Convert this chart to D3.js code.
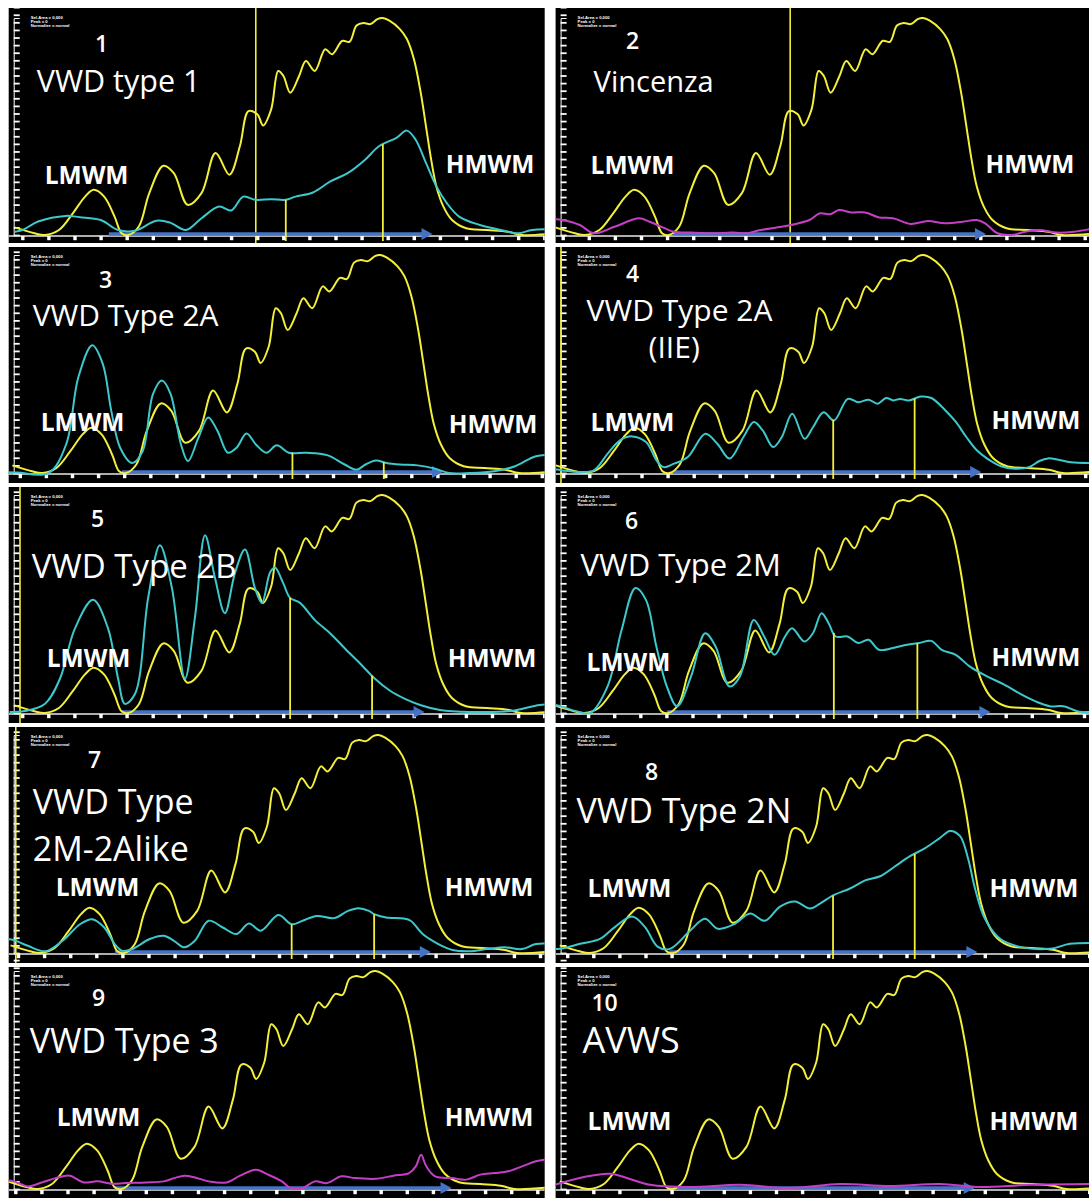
<!DOCTYPE html>
<html><head><meta charset="utf-8">
<script src="https://cdn.jsdelivr.net/npm/d3@7"></script>
<style>html,body{margin:0;padding:0;background:#fff}svg{display:block}</style>
</head><body>
<svg id="chart" width="1089" height="1198"></svg>
<script>
// ---------------- DATA ----------------
const panelNumbers = ["1","2","3","4","5","6","7","8","9","10"];
const panelTitles = [["VWD type 1"],["Vincenza"],["VWD Type 2A"],["VWD Type 2A","(IIE)"],["VWD Type 2B"],["VWD Type 2M"],["VWD Type","2M-2Alike"],["VWD Type 2N"],["VWD Type 3"],["AVWS"]];
const lowLabel = "LMWM";
const highLabel = "HMWM";
const headerLines = ["Sel.Area = 0,000","Peak = 0","Normalize = normal"];
const xTicks = d3.range(0, 21);            // migration distance ticks
const yRulerTicks = d3.range(0, 106, 3.5);  // densitometry ruler

// normal plasma densitometry (same reference in every panel), [migration, % of max]
const normalPlasma = [[-0.3,3.5],[0.45,0.8],[0.85,0],[1.39,2.3],[1.92,10],[2.39,17.7],[2.72,20.8],[3.12,17.7],[3.52,8.5],[3.79,0.8],[4.05,0],[4.45,3.9],[4.85,19.3],[5.39,31.9],[5.79,28.5],[6.32,13.9],[6.85,19.3],[7.39,37.8],[7.92,27.8],[8.32,40.9],[8.65,57.1],[8.99,55.6],[9.21,50.5],[9.52,57.9],[9.79,75.6],[9.99,73.3],[10.25,65.6],[10.59,73.3],[10.85,80.2],[11.19,75.6],[11.59,85.6],[11.85,83.3],[12.25,89.5],[12.52,89],[12.79,96.5],[13.05,97.7],[13.32,97.2],[13.59,99.5],[13.79,100],[14.05,98.8],[14.45,94.9],[14.72,90.3],[14.99,81],[15.25,65.6],[15.45,50.2],[15.65,34.7],[15.85,22.4],[16.12,13.1],[16.45,6.9],[16.99,3.1],[17.79,2.3],[18.59,1.5],[19.12,0],[20.5,0.8]];

const patientType1 = [[-0.3,1.5],[-0.01,2.3],[0.59,6.2],[1.65,8.8],[2.19,8.2],[2.99,6.9],[3.65,2.3],[4.32,2.0],[5.12,6.6],[5.65,5.7],[6.25,2.3],[6.85,7.7],[7.52,13.1],[7.99,11.3],[8.45,17.7],[8.92,16.2],[9.52,16.5],[10.08,16.2],[10.45,17.7],[11.12,19.6],[11.79,24.7],[12.45,28.5],[13.12,34.7],[13.65,40.9],[14.32,44.8],[14.72,48.1],[15.05,44],[15.45,33.2],[15.85,22.4],[16.25,14.7],[16.72,8.5],[17.52,4.6],[18.32,2.3],[18.99,0.8],[19.52,2.3],[20.5,2.6]];
const patientVincenza = [[-0.5,7.5],[-0.03,6.9],[0.64,4.6],[1.17,0.8],[1.97,3.8],[2.91,7.7],[3.31,6.1],[3.84,3.4],[4.24,1.5],[4.91,1.1],[5.71,0.8],[6.51,1.1],[7.04,0.8],[7.57,2.3],[8.37,3.8],[8.91,5.1],[9.44,6.9],[9.84,10],[10.24,9.6],[10.57,11.5],[11.04,10.4],[11.57,10.4],[12.11,8.1],[12.64,7.7],[13.31,5.1],[13.97,6.4],[14.64,5.4],[15.31,6.1],[15.84,6.9],[16.17,5.4],[16.64,0.8],[17.17,0],[17.71,1.5],[18.24,2.3],[18.91,1.1],[19.57,1.5],[20.5,3.5]];
const patientType2A = [[-0.5,0.3],[-0.11,0.2],[1.09,0],[1.76,13.1],[2.23,44],[2.76,58.6],[3.16,50.2],[3.49,28.5],[3.83,11.6],[4.29,4.6],[4.69,10],[5.09,36.3],[5.43,42.4],[5.76,36.3],[6.16,13.1],[6.43,5.4],[6.83,16.2],[7.2,25.5],[7.56,19.3],[7.96,9.3],[8.29,11.6],[8.67,18.1],[9.03,13.1],[9.43,9.3],[9.83,12.7],[10.29,9.3],[10.96,9.3],[11.76,8.2],[12.43,3.9],[12.89,1.5],[13.23,3.9],[13.63,5.7],[14.03,4.6],[14.56,3.9],[15.23,3.5],[15.89,2],[16.43,0],[17.23,0],[18.16,0.8],[18.96,3.1],[19.76,7.7],[20.5,8.2]];
const patientType2AIIE = [[-0.5,2],[-0.04,1.2],[0.63,0.5],[1.16,1.2],[1.69,8.9],[2.16,15],[2.63,16.8],[3.16,14.2],[3.56,5.8],[3.83,2.7],[4.23,4.3],[4.76,7.3],[5.43,18],[5.89,13.4],[6.36,6.6],[6.89,16.5],[7.29,23.4],[7.63,19.5],[8.03,11.9],[8.36,16.5],[8.76,27.2],[9.23,15.7],[9.56,21.1],[9.96,27.9],[10.36,24.1],[10.89,34],[11.29,32.5],[11.69,33.6],[12.03,31.8],[12.36,34.4],[12.63,33.3],[12.89,34],[13.23,33.3],[13.69,35.1],[14.09,34.4],[14.63,28.7],[15.03,23.4],[15.43,16.5],[15.83,10.4],[16.23,6.6],[16.76,3.1],[17.29,2],[17.83,2.7],[18.23,5.5],[18.56,6.7],[18.96,6.1],[19.43,4.9],[20.5,4.6]];
const patientType2B = [[-0.5,0.5],[0.09,0.9],[0.86,4.2],[1.43,15.7],[2.01,38.9],[2.7,51.9],[3.27,38.9],[3.66,15.7],[3.92,4.2],[4.31,8.8],[4.81,52.8],[5.26,76.9],[5.72,57.4],[6.22,15.7],[6.6,43.5],[6.99,81.5],[7.37,62],[7.75,45.8],[8.14,64.4],[8.52,75],[8.9,57.4],[9.17,50.5],[9.48,64.4],[9.67,66.7],[9.98,59.7],[10.25,52.8],[10.63,50.5],[11.2,42.6],[11.78,36.6],[12.35,29.6],[12.93,22.7],[13.5,15.7],[14.08,10.2],[14.65,6.5],[15.23,3.7],[15.99,1.4],[17.15,0.5],[18.67,0.9],[19.82,3.7],[20.5,4]];
const patientType2M = [[-0.5,4],[-0.07,3.1],[0.53,0.8],[1.07,0],[1.73,12.2],[2.27,38.2],[2.8,57.3],[3.2,51.9],[3.6,30.5],[4,12.2],[4.4,3.1],[4.93,16.8],[5.47,36.6],[5.87,30.5],[6.4,12.2],[6.8,16.8],[7.33,42.7],[7.73,35.1],[8.13,26.7],[8.53,35.1],[8.8,38.9],[9.27,32.8],[9.6,36.6],[9.93,45.8],[10.2,41.2],[10.47,35.1],[10.93,35.1],[11.33,32.1],[11.73,33.6],[12.13,29],[12.67,29.8],[13.2,31.3],[13.67,32.1],[14.13,33.1],[14.53,29],[15.07,26.7],[15.6,21.4],[16.27,16.8],[16.93,13],[17.6,8.4],[18.13,5.3],[18.67,3.1],[19.2,3.1],[19.73,0.8],[20.5,0]];
const patientType2M2A = [[-0.5,6.5],[-0.17,5.9],[0.36,3.3],[1.03,0.8],[1.69,5.6],[2.36,13.2],[2.83,15.5],[3.29,11.7],[3.69,4.1],[3.96,1.1],[4.36,1.8],[5.03,6.4],[5.56,7.9],[5.96,5.6],[6.36,2.6],[6.76,5.6],[7.29,14.8],[7.83,11.7],[8.36,8.7],[8.83,13.5],[9.29,10.2],[9.96,17.4],[10.47,13.2],[10.89,14.8],[11.43,17],[12.09,16],[12.63,19.3],[13.03,20.5],[13.43,19.3],[13.63,17.8],[14.09,16.3],[14.76,15.8],[15.03,14.8],[15.49,8.7],[16.09,4.1],[16.63,1.4],[17.29,0.8],[17.96,1.8],[18.63,2.6],[19.29,1.8],[19.83,4.1],[20.5,4.1]];
const patientType2N = [[-0.5,1.9],[-0.29,1.9],[0.48,4.2],[1.24,6.5],[1.82,12],[2.47,16.7],[2.96,12],[3.46,2.8],[3.92,1.9],[4.69,10.2],[5.26,15.7],[5.76,11.1],[6.41,13.4],[6.99,18.1],[7.56,14.8],[8.14,21.3],[8.71,23.6],[9.29,20.4],[9.67,22.7],[10.17,26.4],[10.82,29.6],[11.4,33.3],[11.97,35.2],[12.55,39.8],[13.12,44.4],[13.7,48.1],[14.27,52.8],[14.65,56],[15.03,53.7],[15.34,43.5],[15.61,29.6],[15.99,15.7],[16.57,6.5],[17.33,2.8],[18.48,1.9],[19.25,4.2],[20.5,4.6]];
const patientType3 = [[-0.5,4],[-0.07,3.5],[0.47,1.2],[1,3],[1.53,5],[2.07,6.1],[2.6,3],[3.13,3.5],[3.67,2.4],[4.2,2.7],[5,3],[5.67,3.5],[6.07,5],[6.47,6.1],[6.87,5.3],[7.4,3.5],[8.07,3],[8.6,6.1],[9.2,8.8],[9.67,6.6],[10.2,3.5],[10.53,0.5],[11,0.5],[11.47,3.5],[11.93,2.7],[12.47,5.8],[13,5],[13.8,4.7],[14.47,6.1],[15.07,7.3],[15.33,10.4],[15.53,15.7],[15.73,10.4],[16.07,5.8],[16.73,5],[17.27,4.3],[17.8,6.6],[18.33,7.3],[18.87,8.1],[19.4,10.4],[19.93,12.7],[20.5,14]];
const patientAVWS = [[-0.5,1.9],[0.67,5.6],[1.63,7],[2.39,4.6],[3.16,1.9],[4.69,0.9],[6.61,1.9],[8.52,0.5],[10.44,2.3],[12.35,1.4],[14.27,2.3],[15.8,0.9],[17.72,1.9],[20.5,2.3]];

const patientSeries = [patientType1, patientVincenza, patientType2A, patientType2AIIE, patientType2B, patientType2M, patientType2M2A, patientType2N, patientType3, patientAVWS];
// cut-off markers (migration units): full-height lines and lines up to the patient curve
const fullMarkers = [[8.93],[8.7],[],[-0.1],[-0.1],[],[-0.1],[],[],[]];
const curveMarkers = [[10.08,13.8],[],[10.43,13.93],[10.33,13.45],[10.25,13.39],[10.4,13.6],[10.47,13.63],[10.17,13.3],[],[]];
const arrowSpan = [[3.3,15.7],[4.2,16.2],[3.9,16.2],[4.2,16.0],[3.8,15.4],[4.0,16.4],[3.7,15.8],[3.9,15.7],[3.8,16.7],[3.9,15.6]];

// ---------------- LAYOUT / STYLE ----------------
const colLeft = [8.7, 555.6], colWidth = [536, 533.4];
const rowTop = [8, 247, 487, 727, 967], rowHeight = [235, 236, 236, 236, 231];
const rowBase = [227, 226, 226, 226, 222], rowPeak = [10, 8, 8, 8, 4];
const tickOrigin = [14, 7.5, 11.5, 8, 13.9, 6.8, 9.7, 12, 7, 12];
const TICK_STEP = 26.1;
const seriesColor = ["#3cc8cc","#c43fc6","#3cc8cc","#3cc8cc","#3cc8cc","#3cc8cc","#3cc8cc","#3cc8cc","#c43fc6","#c43fc6"];
const YELLOW = "#f3ef3a", BLUE = "#4472c4";
const titleSize = [30.5, 29, 30, 30, 33, 31, 34, 34, 34, 36];
const textPos = [
  {num:[93,44], t:[[28,84]], low:[36,176], high:[437,165]},
  {num:[77,41], t:[[38,84]], low:[35,166], high:[430,165]},
  {num:[97,41], t:[[24,79]], low:[32,184], high:[440,186]},
  {num:[77,35], t:[[31,74],[93,111]], low:[35,184], high:[436,182]},
  {num:[89,40], t:[[23,91]], low:[38,180], high:[439,180]},
  {num:[76,42], t:[[25,89]], low:[31,184], high:[436,179]},
  {num:[86,41], t:[[24,87],[24,134]], low:[47,169], high:[436,169]},
  {num:[96,53], t:[[21,96]], low:[32,170], high:[434,170]},
  {num:[90,39], t:[[21,86]], low:[48,159], high:[436,159]},
  {num:[49,44], t:[[27,86]], low:[32,163], high:[434,163]}
];

const svg = d3.select("#chart");
svg.append("rect").attr("width",1089).attr("height",1198).attr("fill","#fff");

function interp(series, t){
  for (let k=0;k<series.length-1;k++){
    const a=series[k], b=series[k+1];
    if (t>=a[0] && t<=b[0]) return a[1]+(b[1]-a[1])*(t-a[0])/(b[0]-a[0]);
  }
  return 0;
}

panelNumbers.forEach((num, i) => {
  const col = i % 2, row = Math.floor(i / 2);
  const W = colWidth[col], H = rowHeight[row];
  const g = svg.append("g").attr("transform", `translate(${colLeft[col]},${rowTop[row]})`);
  g.append("rect").attr("width", W).attr("height", H).attr("fill", "#000");
  const cid = "clip" + i;
  g.append("clipPath").attr("id", cid).append("rect").attr("width", W).attr("height", H);
  const x = d3.scaleLinear().domain([0, 20]).range([tickOrigin[i], tickOrigin[i] + TICK_STEP * 20]);
  const y = d3.scaleLinear().domain([0, 100]).range([rowBase[row], rowPeak[row]]);
  const base = y(0);

  // ruler on the left
  const ruler = g.append("g").attr("transform", "translate(5,0)")
    .call(d3.axisRight(y).tickValues(yRulerTicks).tickSize(6).tickFormat(""));
  ruler.selectAll("path,line").attr("stroke", "#fff").attr("stroke-width", 1.8);
  ruler.select("path").attr("stroke-width", 1);

  // header micro text
  g.append("g").selectAll("text").data(headerLines).join("text")
    .attr("x", 22).attr("y", (d, k) => 11 + k * 4.2)
    .attr("fill", "#fff").attr("font-family", "Liberation Sans, sans-serif")
    .attr("font-size", 4.2).attr("font-weight", "bold").text(d => d);

  const inner = g.append("g").attr("clip-path", `url(#${cid})`);

  // baseline + ticks
  inner.append("line").attr("x1", 0).attr("x2", W).attr("y1", base + 1).attr("y2", base + 1)
    .attr("stroke", "#e8e8e8").attr("stroke-width", 1.6);
  inner.selectAll("rect.tk").data(xTicks).join("rect").attr("class", "tk")
    .attr("x", d => x(d) - 1.6).attr("y", base + 1).attr("width", 3.4).attr("height", 4.2).attr("fill", "#fff");

  const line = d3.line().x(d => x(d[0])).y(d => y(Math.max(0, d[1]))).curve(d3.curveCatmullRom.alpha(0.5));

  // full-height markers
  inner.selectAll("line.fm").data(fullMarkers[i]).join("line").attr("class", "fm")
    .attr("x1", d => x(d)).attr("x2", d => x(d)).attr("y1", 0).attr("y2", H)
    .attr("stroke", YELLOW).attr("stroke-width", 1.6);

  // arrow
  const [a0, a1] = arrowSpan[i];
  inner.append("line").attr("x1", x(a0)).attr("x2", x(a1) - 8).attr("y1", base - 1).attr("y2", base - 1)
    .attr("stroke", BLUE).attr("stroke-width", 3.4);
  inner.append("path")
    .attr("d", `M${x(a1) - 11},${base - 7} L${x(a1)},${base - 1} L${x(a1) - 11},${base + 5} Z`)
    .attr("fill", BLUE);

  // normal plasma (yellow)
  inner.append("path").datum(normalPlasma).attr("d", line)
    .attr("fill", "none").attr("stroke", YELLOW).attr("stroke-width", 2);

  // patient
  const ser = patientSeries[i];
  inner.append("path").datum(ser).attr("d", line)
    .attr("fill", "none").attr("stroke", seriesColor[i]).attr("stroke-width", 2);

  // markers up to patient curve
  inner.selectAll("line.cm").data(curveMarkers[i]).join("line").attr("class", "cm")
    .attr("x1", d => x(d)).attr("x2", d => x(d)).attr("y1", base + 6).attr("y2", d => y(interp(ser, d)))
    .attr("stroke", YELLOW).attr("stroke-width", 1.8);

  // texts
  const tp = textPos[i];
  g.append("text").attr("x", tp.num[0]).attr("y", tp.num[1]).attr("text-anchor", "middle")
    .attr("fill", "#fff").attr("font-family", "Open Sans, sans-serif").attr("font-weight", 600)
    .attr("font-size", 23).text(num);
  panelTitles[i].forEach((t, k) => {
    g.append("text").attr("x", tp.t[k][0]).attr("y", tp.t[k][1])
      .attr("fill", "#fff").attr("font-family", "Open Sans, sans-serif")
      .attr("font-size", titleSize[i]).text(t);
  });
  g.append("text").attr("x", tp.low[0]).attr("y", tp.low[1]).attr("fill", "#fff")
    .attr("font-family", "Open Sans, sans-serif").attr("font-weight", "bold").attr("font-size", 24.5).text(lowLabel);
  g.append("text").attr("x", tp.high[0]).attr("y", tp.high[1]).attr("fill", "#fff")
    .attr("font-family", "Open Sans, sans-serif").attr("font-weight", "bold").attr("font-size", 24.5).text(highLabel);
});
</script>
</body></html>
